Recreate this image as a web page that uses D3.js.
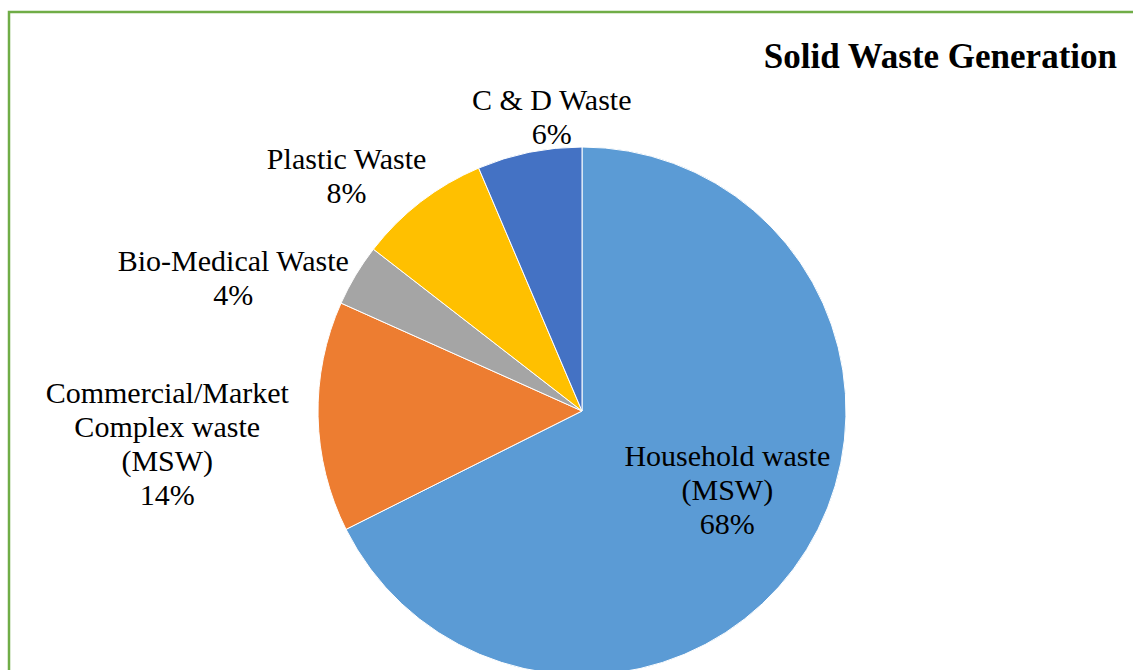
<!DOCTYPE html>
<html>
<head>
<meta charset="utf-8">
<script src="https://cdn.jsdelivr.net/npm/d3@7"></script>
<style>
    body { margin: 0; background: #fff; }
    svg { display: block; }
    text { font-family: "Liberation Serif", "Times New Roman", serif; fill: #000; }
</style>
</head>
<body>
<svg></svg>
<script>
// chart values (labels show the rounded shares)
var categories = ["Household waste (MSW)", "Commercial/Market Complex waste (MSW)", "Bio-Medical Waste", "Plastic Waste", "C & D Waste"];
var labelLines = [["Household waste", "(MSW)"], ["Commercial/Market", "Complex waste", "(MSW)"], ["Bio-Medical Waste"], ["Plastic Waste"], ["C & D Waste"]];
var shares = [67.6, 14.1, 3.8, 8.1, 6.4];
var colors = ["#5B9BD5", "#ED7D31", "#A5A5A5", "#FFC000", "#4472C4"];
var title = "Solid Waste Generation";

// label placement: inside label for the big slice, nudges for the outer ones
var labelInside = [true, false, false, false, false];
var labelNudge = [[6, -7], [-98, 26], [-77, 30], [-42, 16], [33, 16]];

var width = 1133, height = 670;
var cx = 582, cy = 411, radius = 264;
var lineH = 34;
var pct = d3.format(".0f");

var svg = d3.select("svg")
    .attr("width", width)
    .attr("height", height);

// green frame (right and bottom edges run off the page)
svg.append("path")
    .attr("d", "M9," + (height + 5) + "V12H" + (width + 5))
    .attr("fill", "none")
    .attr("stroke", "#70AD47")
    .attr("stroke-width", 2.5);

var data = shares.map(function (d, i) {
    return {name: categories[i], value: d, lines: labelLines[i].concat([pct(d) + "%"]), i: i};
});

var pie = d3.pie()
    .sort(null)
    .value(function (d) { return d.value; });

var arc = d3.arc().innerRadius(0).outerRadius(radius);
var inArc = d3.arc().innerRadius(radius * 0.62).outerRadius(radius * 0.62);
var outArc = d3.arc().innerRadius(radius * 1.2).outerRadius(radius * 1.2);

var g = svg.append("g")
    .attr("transform", "translate(" + cx + "," + cy + ")");

var arcs = pie(data);

g.selectAll(".slice")
    .data(arcs)
    .enter().append("path")
    .attr("class", "slice")
    .attr("d", arc)
    .attr("fill", function (d) { return colors[d.index]; })
    .attr("stroke", "#fff")
    .attr("stroke-width", 1);

var labels = g.selectAll(".label")
    .data(arcs)
    .enter().append("text")
    .attr("class", "label")
    .attr("text-anchor", "middle")
    .style("font-size", "30px")
    .attr("transform", function (d) {
        var c = labelInside[d.index] ? inArc.centroid(d) : outArc.centroid(d);
        var n = labelNudge[d.index];
        var lines = d.data.lines.length;
        // centre the block of lines on the anchor point
        var y0 = c[1] + n[1] - (lines - 1) * lineH / 2 + 10;
        return "translate(" + (c[0] + n[0]) + "," + y0 + ")";
    });

labels.selectAll("tspan")
    .data(function (d) { return d.data.lines; })
    .enter().append("tspan")
    .attr("x", 0)
    .attr("y", function (d, i) { return i * lineH; })
    .text(function (d) { return d; });

svg.append("text")
    .attr("x", 1117)
    .attr("y", 68)
    .attr("text-anchor", "end")
    .style("font-size", "35px")
    .style("font-weight", "bold")
    .text(title);
</script>
</body>
</html>
